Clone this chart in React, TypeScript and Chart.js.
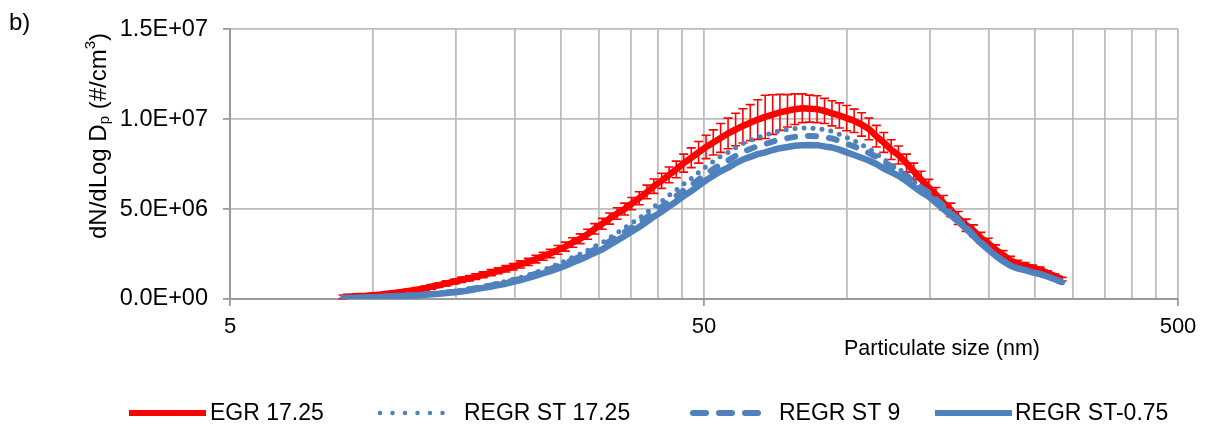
import React, { useEffect, useRef } from "react";
import { Chart, registerables } from "chart.js";

Chart.register(...registerables);

// Particle diameters (nm), SMPS channels
const diameters = [
  8.66, 8.97, 9.31, 9.65, 10.0, 10.4, 10.7, 11.1, 11.5, 11.9,
  12.4, 12.9, 13.3, 13.8, 14.3, 14.9, 15.4, 16.0, 16.5, 17.1,
  17.8, 18.4, 19.1, 19.8, 20.5, 21.3, 22.1, 22.9, 23.7, 24.6,
  25.5, 26.4, 27.4, 28.4, 29.4, 30.5, 31.6, 32.8, 34.0, 35.2,
  36.5, 37.9, 39.2, 40.7, 42.2, 43.7, 45.3, 47.0, 48.7, 50.5,
  52.3, 54.2, 56.2, 58.3, 60.4, 62.6, 64.9, 67.3, 69.8, 72.3,
  75.0, 77.7, 80.6, 83.5, 86.6, 89.8, 93.1, 96.5, 100.0, 103.7,
  107.5, 111.4, 115.5, 119.7, 124.1, 128.6, 133.7, 138.5, 143.5, 148.9,
  154.3, 160.0, 165.8, 171.9, 178.7, 185.1, 191.9, 198.9, 206.2, 213.7,
  221.7, 229.2, 237.9, 246.6, 255.8, 265.1, 274.8, 284.9,
];

// Values in units of 1E+06 #/cm3
const VALUE_UNIT = 1e6;

const egr1725 = [
  0.12, 0.14, 0.16, 0.18, 0.21, 0.25, 0.29, 0.34, 0.39, 0.45,
  0.52, 0.60, 0.68, 0.77, 0.87, 0.97, 1.07, 1.15, 1.24, 1.35,
  1.47, 1.57, 1.68, 1.79, 1.92, 2.06, 2.22, 2.37, 2.53, 2.73,
  2.91, 3.14, 3.35, 3.60, 3.90, 4.18, 4.47, 4.75, 5.00, 5.30,
  5.60, 5.95, 6.27, 6.57, 6.90, 7.20, 7.55, 7.85, 8.15, 8.45,
  8.70, 8.95, 9.20, 9.42, 9.62, 9.80, 9.97, 10.12, 10.25, 10.37,
  10.46, 10.55, 10.60, 10.58, 10.55, 10.45, 10.32, 10.20, 10.05, 9.90,
  9.70, 9.45, 9.05, 8.70, 8.30, 8.00, 7.55, 7.10, 6.65, 6.20,
  5.80, 5.35, 4.95, 4.50, 4.10, 3.80, 3.40, 3.10, 2.75, 2.45,
  2.15, 1.95, 1.85, 1.73, 1.63, 1.45, 1.28, 1.10,
];

const egr1725Err = [
  0.10, 0.10, 0.10, 0.10, 0.10, 0.10, 0.10, 0.10, 0.10, 0.11,
  0.12, 0.12, 0.13, 0.13, 0.14, 0.14, 0.15, 0.15, 0.16, 0.16,
  0.17, 0.17, 0.18, 0.18, 0.20, 0.20, 0.21, 0.22, 0.23, 0.24,
  0.25, 0.26, 0.27, 0.28, 0.29, 0.30, 0.31, 0.32, 0.33, 0.34,
  0.36, 0.38, 0.40, 0.42, 0.44, 0.46, 0.50, 0.55, 0.60, 0.65,
  0.70, 0.80, 0.85, 0.90, 0.95, 1.00, 1.10, 1.20, 1.10, 1.00,
  0.90, 0.85, 0.80, 0.75, 0.75, 0.70, 0.70, 0.70, 0.70, 0.65,
  0.65, 0.60, 0.60, 0.55, 0.55, 0.50, 0.50, 0.45, 0.45, 0.45,
  0.40, 0.40, 0.38, 0.36, 0.34, 0.32, 0.30, 0.28, 0.26, 0.24,
  0.22, 0.20, 0.18, 0.16, 0.14, 0.12, 0.10, 0.10,
];

const regrSt1725 = [
  0.07, 0.08, 0.09, 0.10, 0.11, 0.13, 0.15, 0.17, 0.19, 0.21,
  0.24, 0.27, 0.30, 0.34, 0.38, 0.43, 0.50, 0.57, 0.64, 0.72,
  0.80, 0.89, 0.98, 1.09, 1.20, 1.34, 1.48, 1.63, 1.77, 1.94,
  2.11, 2.31, 2.50, 2.70, 2.92, 3.13, 3.40, 3.67, 3.95, 4.22,
  4.49, 4.82, 5.13, 5.43, 5.76, 6.06, 6.39, 6.70, 7.03, 7.36,
  7.64, 7.92, 8.14, 8.41, 8.64, 8.82, 8.98, 9.10, 9.24, 9.34,
  9.42, 9.48, 9.50, 9.51, 9.48, 9.40, 9.32, 9.16, 8.98, 8.80,
  8.58, 8.36, 8.08, 7.76, 7.49, 7.24, 6.91, 6.56, 6.22, 5.94,
  5.57, 5.20, 4.84, 4.46, 4.04, 3.61, 3.19, 2.82, 2.45, 2.14,
  1.88, 1.73, 1.62, 1.50, 1.40, 1.27, 1.11, 0.94,
];

const regrSt9 = [
  0.06, 0.07, 0.08, 0.09, 0.10, 0.12, 0.14, 0.16, 0.18, 0.20,
  0.22, 0.25, 0.28, 0.32, 0.36, 0.41, 0.47, 0.53, 0.60, 0.68,
  0.75, 0.84, 0.93, 1.03, 1.14, 1.27, 1.41, 1.55, 1.67, 1.83,
  1.99, 2.18, 2.36, 2.55, 2.75, 2.95, 3.20, 3.46, 3.72, 3.98,
  4.24, 4.55, 4.84, 5.12, 5.43, 5.72, 6.03, 6.33, 6.64, 6.95,
  7.22, 7.48, 7.70, 7.96, 8.18, 8.34, 8.50, 8.61, 8.75, 8.86,
  8.94, 9.01, 9.05, 9.06, 9.05, 8.98, 8.92, 8.79, 8.63, 8.48,
  8.30, 8.12, 7.90, 7.62, 7.39, 7.17, 6.85, 6.52, 6.20, 5.92,
  5.55, 5.18, 4.80, 4.43, 4.00, 3.58, 3.17, 2.80, 2.44, 2.13,
  1.87, 1.72, 1.61, 1.49, 1.39, 1.26, 1.10, 0.93,
];

const regrStM075 = [
  0.05, 0.06, 0.07, 0.08, 0.09, 0.11, 0.13, 0.15, 0.16, 0.18,
  0.20, 0.23, 0.26, 0.29, 0.33, 0.37, 0.42, 0.48, 0.55, 0.62,
  0.69, 0.77, 0.85, 0.95, 1.05, 1.17, 1.30, 1.43, 1.55, 1.70,
  1.85, 2.03, 2.20, 2.38, 2.57, 2.76, 3.00, 3.25, 3.50, 3.75,
  4.00, 4.30, 4.58, 4.85, 5.15, 5.42, 5.72, 6.00, 6.30, 6.60,
  6.85, 7.10, 7.30, 7.55, 7.75, 7.90, 8.05, 8.15, 8.28, 8.38,
  8.45, 8.52, 8.55, 8.56, 8.55, 8.48, 8.42, 8.30, 8.15, 8.00,
  7.85, 7.70, 7.50, 7.25, 7.05, 6.85, 6.55, 6.25, 5.95, 5.70,
  5.35, 5.00, 4.65, 4.30, 3.90, 3.50, 3.10, 2.75, 2.40, 2.10,
  1.85, 1.70, 1.60, 1.48, 1.38, 1.25, 1.10, 0.93,
];

const seriesNames = ["EGR 17.25", "REGR ST 17.25", "REGR ST 9", "REGR ST-0.75"];
// Excel-style log axis: majors at 5, 50, 500; minors at 2..9 x major
const xGridValues = [5, 10, 15, 20, 25, 30, 35, 40, 45, 50, 100, 150, 200, 250, 300, 350, 400, 450, 500];
const xLabelValues = [5, 50, 500];
const yTickValues = [0, 5e6, 1e7, 1.5e7];
const xTitle = "Particulate size (nm)";
const panelLabel = "b)";

const RED = "#FF0000";
const BLUE = "#4F81BD";
const GRID = "#BDBDBD";
const AXIS = "#9A9A9A";
const FONT = "'Liberation Sans', Arial, sans-serif";

function sci(v: number): string {
  if (v === 0) return "0.0E+00";
  const e = Math.floor(Math.log10(Math.abs(v)) + 1e-9);
  const m = v / Math.pow(10, e);
  return m.toFixed(1) + "E" + (e < 0 ? "-" : "+") + String(Math.abs(e)).padStart(2, "0");
}

function pts(arr: number[]) {
  return diameters.map((d, i) => ({ x: d, y: arr[i] * VALUE_UNIT }));
}

const errorBarPlugin = {
  id: "errorBars",
  beforeDatasetsDraw(chart: any) {
    const { ctx, scales } = chart;
    const xs = scales.x;
    const ys = scales.y;
    ctx.save();
    ctx.strokeStyle = RED;
    ctx.lineWidth = 1.6;
    diameters.forEach((d, i) => {
      const px = xs.getPixelForValue(d);
      const top = ys.getPixelForValue((egr1725[i] + egr1725Err[i]) * VALUE_UNIT);
      const bot = ys.getPixelForValue((egr1725[i] - egr1725Err[i]) * VALUE_UNIT);
      ctx.beginPath();
      ctx.moveTo(px, top);
      ctx.lineTo(px, bot);
      ctx.moveTo(px - 4.5, top);
      ctx.lineTo(px + 4.5, top);
      ctx.moveTo(px - 4.5, bot);
      ctx.lineTo(px + 4.5, bot);
      ctx.stroke();
    });
    ctx.restore();
  },
};

const legendStyles = [
  { color: RED, width: 6, dash: [] as number[] },
  { color: BLUE, width: 4.5, dash: [0, 12.5] },
  { color: BLUE, width: 6, dash: [13, 13] },
  { color: BLUE, width: 6, dash: [] as number[] },
];
const legendLineX = [129, 377, 690, 935];
const legendTextX = [210, 464, 779, 1015];

const annotationsPlugin = {
  id: "annotations",
  afterDraw(chart: any) {
    const { ctx } = chart;
    ctx.save();
    ctx.fillStyle = "#000";
    ctx.textBaseline = "middle";

    // panel label
    ctx.font = `24px ${FONT}`;
    ctx.textAlign = "left";
    ctx.fillText(panelLabel, 9, 23);

    // x title
    ctx.font = `21.5px ${FONT}`;
    ctx.textAlign = "center";
    ctx.fillText(xTitle, 942, 349);

    // y title with sub/superscripts
    const parts = [
      { t: "dN/dLog D", s: 24, dy: 0 },
      { t: "p", s: 15, dy: 6 },
      { t: " (#/cm", s: 24, dy: 0 },
      { t: "3", s: 15, dy: -8 },
      { t: ")", s: 24, dy: 0 },
    ];
    ctx.save();
    ctx.translate(99, 136);
    ctx.rotate(-Math.PI / 2);
    ctx.textAlign = "left";
    let total = 0;
    parts.forEach((p) => {
      ctx.font = `${p.s}px ${FONT}`;
      total += ctx.measureText(p.t).width;
    });
    let x = -total / 2;
    parts.forEach((p) => {
      ctx.font = `${p.s}px ${FONT}`;
      ctx.fillText(p.t, x, p.dy);
      x += ctx.measureText(p.t).width;
    });
    ctx.restore();

    // legend
    ctx.font = `23px ${FONT}`;
    ctx.textAlign = "left";
    const ly = 413;
    seriesNames.forEach((name, i) => {
      const st = legendStyles[i];
      const lx = legendLineX[i];
      ctx.save();
      ctx.strokeStyle = st.color;
      ctx.lineWidth = st.width;
      ctx.lineCap = st.dash.length ? "round" : "butt";
      ctx.setLineDash(st.dash);
      ctx.beginPath();
      if (st.dash.length) {
        ctx.moveTo(lx + 3, ly);
        ctx.lineTo(lx + 75, ly);
      } else {
        ctx.moveTo(lx, ly);
        ctx.lineTo(lx + 77, ly);
      }
      ctx.stroke();
      ctx.restore();
      ctx.fillText(name, legendTextX[i], ly + 1);
    });
    ctx.restore();
  },
};

export default function App() {
  const canvasRef = useRef<HTMLCanvasElement | null>(null);

  useEffect(() => {
    const canvas = canvasRef.current;
    if (!canvas) return;
    const chart = new Chart(canvas, {
      type: "line",
      data: {
        datasets: [
          {
            label: seriesNames[0],
            data: pts(egr1725),
            borderColor: RED,
            backgroundColor: RED,
            borderWidth: 6.5,
            pointRadius: 0,
            borderJoinStyle: "round",
            order: 3,
          },
          {
            label: seriesNames[1],
            data: pts(regrSt1725),
            borderColor: BLUE,
            backgroundColor: BLUE,
            borderWidth: 5,
            borderDash: [0, 9],
            borderCapStyle: "round",
            pointRadius: 0,
            order: 2,
          },
          {
            label: seriesNames[2],
            data: pts(regrSt9),
            borderColor: BLUE,
            backgroundColor: BLUE,
            borderWidth: 6,
            borderDash: [8, 13],
            borderCapStyle: "round",
            pointRadius: 0,
            order: 1,
          },
          {
            label: seriesNames[3],
            data: pts(regrStM075),
            borderColor: BLUE,
            backgroundColor: BLUE,
            borderWidth: 6.5,
            borderJoinStyle: "round",
            pointRadius: 0,
            order: 0,
          },
        ],
      } as any,
      options: {
        responsive: false,
        animation: false,
        layout: { padding: { top: 20, right: 28, left: 0, bottom: 0 } },
        plugins: {
          legend: { display: false },
          tooltip: { enabled: false },
        },
        scales: {
          x: {
            type: "logarithmic",
            min: 5,
            max: 500,
            afterBuildTicks: (s: any) => {
              s.ticks = xGridValues.map((v) => ({ value: v }));
            },
            afterFit: (s: any) => {
              s.height = 131;
            },
            ticks: {
              autoSkip: false,
              maxRotation: 0,
              minRotation: 0,
              padding: 8,
              color: "#000",
              font: { family: FONT, size: 22 },
              callback: (v: any) => (xLabelValues.includes(Number(v)) ? String(v) : ""),
            },
            grid: {
              color: GRID,
              lineWidth: 1.8,
              tickLength: 7,
              tickColor: (c: any) =>
                c.tick && xLabelValues.includes(c.tick.value) ? AXIS : "rgba(0,0,0,0)",
            },
            border: { color: AXIS, width: 2 },
          },
          y: {
            type: "linear",
            min: 0,
            max: 1.5e7,
            afterBuildTicks: (s: any) => {
              s.ticks = yTickValues.map((v) => ({ value: v }));
            },
            afterFit: (s: any) => {
              s.width = 230;
            },
            ticks: {
              padding: 15,
              color: "#000",
              font: { family: FONT, size: 23.5 },
              callback: (v: any) => sci(Number(v)),
            },
            grid: {
              color: GRID,
              lineWidth: 1.8,
              tickLength: 7,
              tickColor: AXIS,
            },
            border: { color: AXIS, width: 2 },
          },
        },
      } as any,
      plugins: [errorBarPlugin, annotationsPlugin],
    });
    return () => chart.destroy();
  }, []);

  return (
    <div style={{ position: "fixed", left: 0, top: 0, width: 1206, height: 430, background: "#fff" }}>
      <canvas ref={canvasRef} width={1206} height={430} style={{ width: 1206, height: 430, display: "block" }} />
    </div>
  );
}
